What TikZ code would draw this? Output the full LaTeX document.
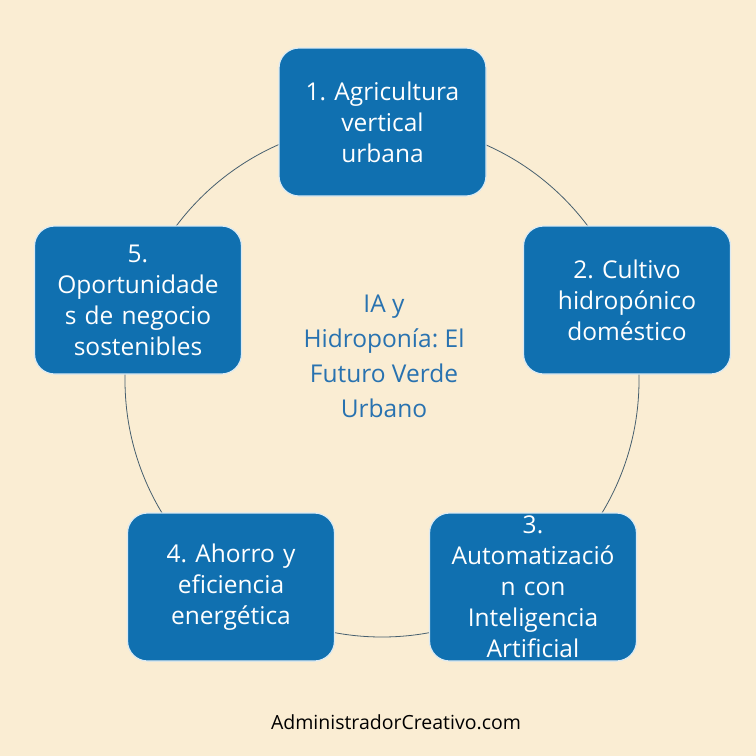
\documentclass[tikz,border=0pt]{standalone}
\usepackage{fontspec}
\setmainfont{Open Sans}
\frenchspacing
\definecolor{bg}{RGB}{250,237,211}
\definecolor{boxblue}{RGB}{16,112,176}
\definecolor{midblue}{RGB}{40,114,176}
\definecolor{ringcol}{RGB}{70,95,110}
\begin{document}
\begin{tikzpicture}[x=1pt,y=-1pt,
  stepbox/.style={draw=white!85!boxblue, line width=1.2pt, fill=boxblue, rounded corners=20pt,
    minimum width=207pt, minimum height=148pt, text width=205pt, align=center,
    text=white, font=\fontsize{24.5}{31}\selectfont, inner sep=0pt},
  ring/.style={draw=ringcol, line width=0.8pt}]
\fill[bg] (0,0) rectangle (756,756);
\useasboundingbox (0,0) rectangle (756,756);
\coordinate (c) at (382,380);
\draw[ring] (c) circle[radius=257];
\node[stepbox] (n1) at (382.5,122) {1. Agricultura\\vertical\\urbana};
\node[stepbox] (n2) at (627,300) {2. Cultivo\\hidropónico\\doméstico};
\node[stepbox] (n3) at (533,587) {3.\\Automatizació\\n con\\Inteligencia\\Artificial};
\node[stepbox] (n4) at (231,587) {4. Ahorro y\\eficiencia\\energética};
\node[stepbox] (n5) at (138,300) {5.\\Oportunidade\\s de negocio\\sostenibles};
\node[text=midblue, align=center, font=\fontsize{24.5}{35}\selectfont] (ctr) at (384,356) {IA y\\Hidroponía: El\\Futuro Verde\\Urbano};
\node[text=black, font=\fontsize{19.5}{22}\selectfont] (foot) at (396,722) {AdministradorCreativo.com};
\end{tikzpicture}
\end{document}
